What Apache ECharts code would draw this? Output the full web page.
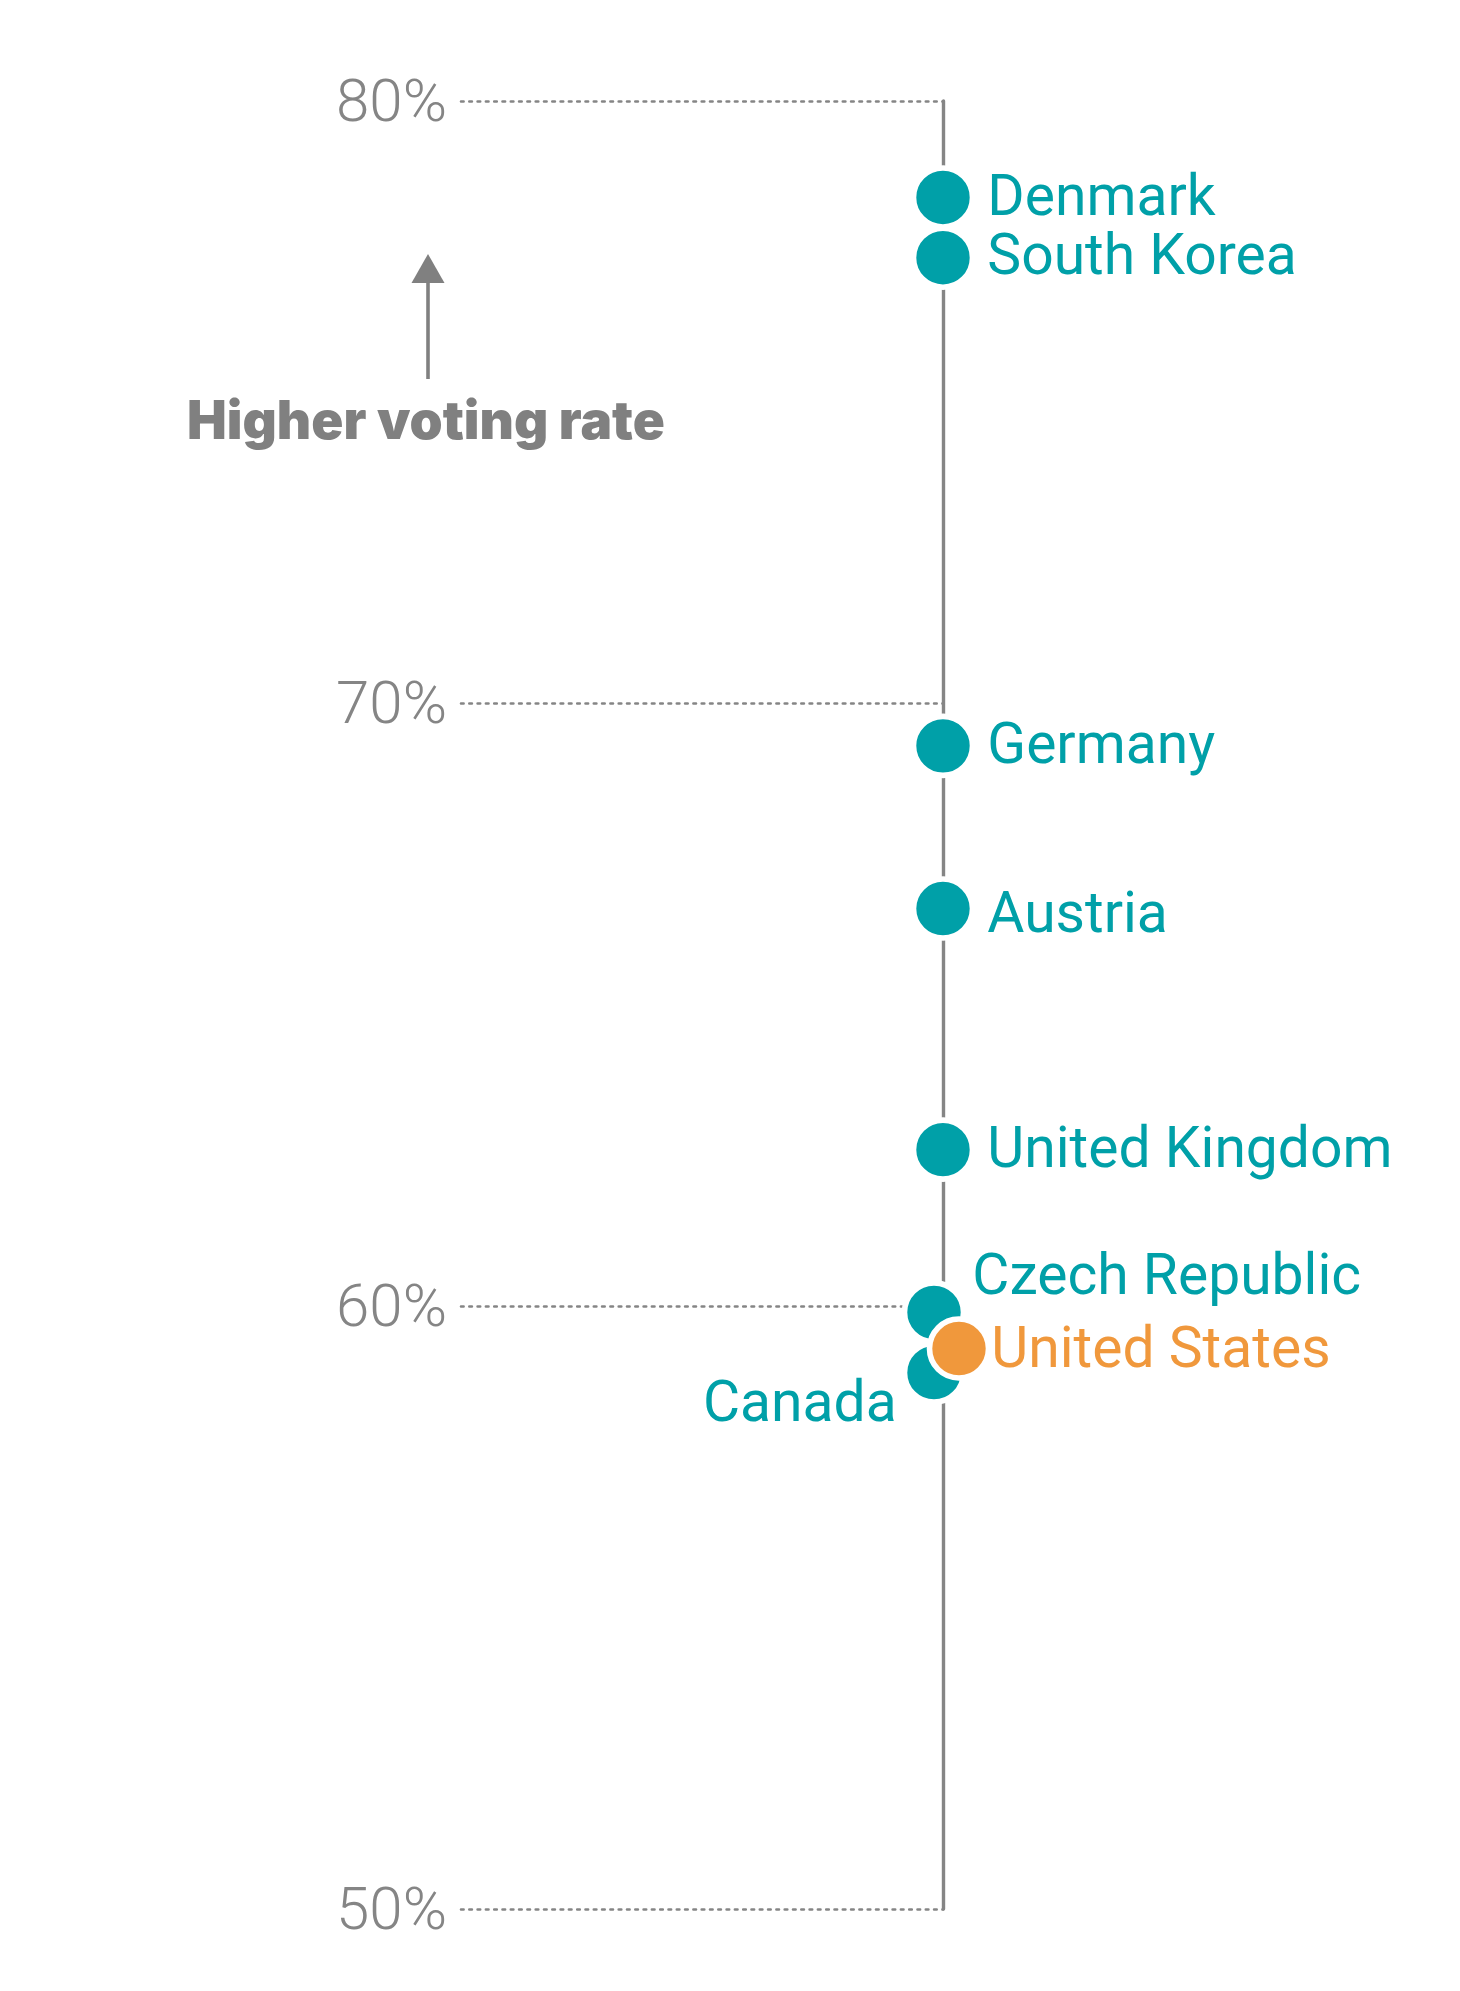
<!DOCTYPE html>
<html>
<head>
<meta charset="utf-8">
<script src="https://cdn.jsdelivr.net/npm/echarts@6/dist/echarts.min.js"></script>
<style>
html,body{margin:0;padding:0;background:#fff;}
#chart{width:1460px;height:1991px;}
</style>
</head>
<body>
<div id="chart"></div>
<script>
// ---- data ----
var countries = ['Denmark', 'South Korea', 'Germany', 'Austria', 'United Kingdom', 'Czech Republic', 'Canada', 'United States'];
var rates = [78.4, 77.4, 69.3, 66.6, 62.6, 59.9, 58.9, 59.3];
var highlight = 'United States';
var yTicks = [50, 60, 70, 80];
var annotationText = 'Higher voting rate';

// ---- styles ----
var TEAL = '#00A0A8';
var ORANGE = '#F0983C';
var GRAY = '#858585';
var symbolOffsets = { 'Czech Republic': [-9, 0], 'Canada': [-9, 0], 'United States': [16, 0] };
var labelTweaks = {
  'Czech Republic': { position: 'right', distance: 12, offset: [-6, -33] },
  'Canada': { position: 'left', distance: 5, offset: [0, 34] },
  'United States': { position: 'right', distance: 12, offset: [-12, 4] },
  'Austria': { position: 'right', distance: 12, offset: [0, 9] },
  'South Korea': { position: 'right', distance: 12, offset: [0, 2] }
};

function buildData(filterFn) {
  var out = [];
  countries.forEach(function (c, i) {
    if (!filterFn(c)) return;
    var col = c === highlight ? ORANGE : TEAL;
    var tw = labelTweaks[c] || { position: 'right', distance: 12, offset: [0, 3] };
    out.push({
      name: c,
      value: [1, rates[i]],
      symbolOffset: symbolOffsets[c] || [0, 0],
      itemStyle: { color: col },
      label: {
        show: true,
        formatter: c,
        color: col,
        position: tw.position,
        distance: tw.distance,
        offset: tw.offset
      }
    });
  });
  return out;
}

var chart = echarts.init(document.getElementById('chart'), null, { renderer: 'canvas' });
var baseLabel = { fontFamily: 'Roboto', fontSize: 57, fontWeight: 400 };

chart.setOption({
  animation: false,
  backgroundColor: '#ffffff',
  grid: { left: 461, right: 517, top: 101, bottom: 82, containLabel: false },
  xAxis: { type: 'value', min: 0, max: 1, show: false },
  yAxis: [
    {
      type: 'value', min: 50, max: 80, interval: 10, position: 'left',
      axisLine: { show: false }, axisTick: { show: false },
      axisLabel: {
        formatter: function (v) { return yTicks.indexOf(v) >= 0 ? '{t|' + v + '%}' : ''; },
        margin: 14,
        rich: {
          t: { color: GRAY, fontFamily: 'Roboto', fontWeight: 300, fontSize: 60, padding: [9, 0, 0, 0] }
        }
      },
      splitLine: { show: true, lineStyle: { color: GRAY, width: 2.6, type: [2.6, 5.7], cap: 'round' } }
    },
    {
      type: 'value', min: 50, max: 80, interval: 10, position: 'right',
      axisLine: { show: true, lineStyle: { color: GRAY, width: 3.4 } },
      axisTick: { show: false }, axisLabel: { show: false }, splitLine: { show: false }
    }
  ],
  series: [
    {
      type: 'scatter', yAxisIndex: 0, z: 3,
      symbol: 'circle', symbolSize: 59,
      itemStyle: { borderColor: '#ffffff', borderWidth: 5.6, opacity: 1 },
      label: baseLabel,
      emphasis: { disabled: true },
      data: buildData(function (c) { return c !== highlight; })
    },
    {
      type: 'scatter', yAxisIndex: 0, z: 4,
      symbol: 'circle', symbolSize: 59,
      itemStyle: { borderColor: '#ffffff', borderWidth: 5.6, opacity: 1 },
      label: baseLabel,
      emphasis: { disabled: true },
      data: buildData(function (c) { return c === highlight; })
    }
  ],
  graphic: [
    { type: 'line', shape: { x1: 428, y1: 379, x2: 428, y2: 278 }, style: { stroke: '#808080', lineWidth: 3.6 } },
    { type: 'polygon', shape: { points: [[411.5, 283], [444.5, 283], [428, 254]] }, style: { fill: '#808080' } },
    {
      type: 'text', x: 426, y: 423,
      style: {
        text: annotationText, fill: '#808080', font: '900 53px Inter',
        textAlign: 'center', textVerticalAlign: 'middle'
      }
    }
  ]
});
</script>
</body>
</html>
